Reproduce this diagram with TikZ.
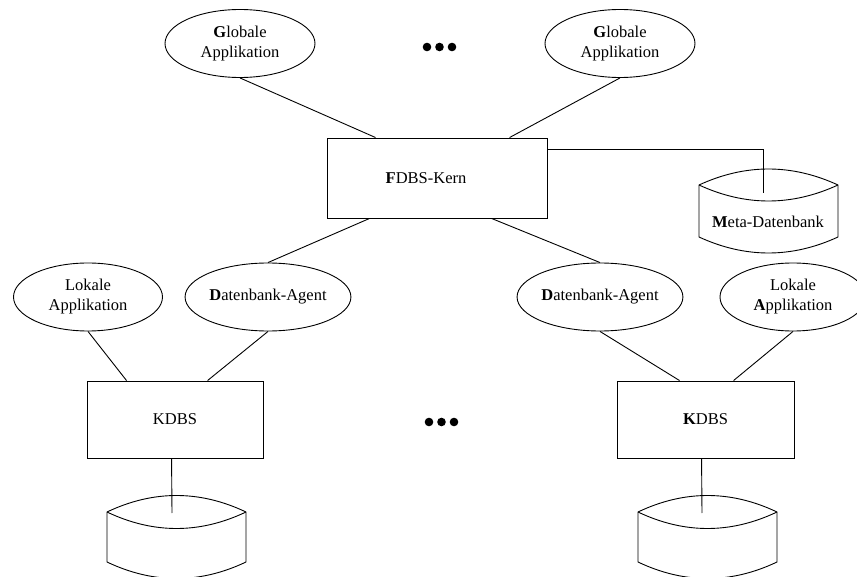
\documentclass[tikz,border=0pt]{standalone}
\usepackage{fontspec}
\setmainfont{Liberation Serif}
\usetikzlibrary{shapes.geometric,calc}
\newcommand{\dbcyl}[5]{% L R yc sag h
  \pgfmathsetmacro{\cw}{(#2-#1)/3}
  \draw (#1,#3) .. controls (#1+\cw,#3-4*#4/3) and (#2-\cw,#3-4*#4/3) .. (#2,#3)
        -- (#2,#3+#5) .. controls (#2-\cw,#3+#5+4*#4/3) and (#1+\cw,#3+#5+4*#4/3) .. (#1,#3+#5) -- cycle;
  \draw (#1,#3) .. controls (#1+\cw,#3+4*#4/3) and (#2-\cw,#3+4*#4/3) .. (#2,#3);
}
\begin{document}
\begin{tikzpicture}[x=1pt,y=-1pt,line width=0.9pt,
  txt/.style={font=\fontsize{16.5}{20}\selectfont},
  app/.style={txt,draw,ellipse,inner sep=0pt,minimum height=68pt,align=center},
  box/.style={txt,draw,rectangle,inner sep=0pt}]
\useasboundingbox (0,0) rectangle (857,577);

% nodes
\node[app,minimum width=150pt] (gl) at (240,43.5) {\textbf{G}lobale\\Applikation};
\node[app,minimum width=150pt] (gr) at (620,43.5) {\textbf{G}lobale\\Applikation};
\node[box,minimum width=220pt,minimum height=80pt] (fdbs) at (437,178) {\textbf{F}DBS-Kern\hspace*{22pt}};
\node[app,minimum width=149pt] (ll) at (88,297) {Lokale\\Applikation};
\node[app,minimum width=138pt] (al) at (268,297) {\textbf{D}atenbank-Agent};
\node[app,minimum width=149pt] (ar) at (600,297) {\textbf{D}atenbank-Agent};
\node[app,minimum width=146pt] (lr) at (793,297) {Lokale\\\textbf{A}pplikation};
\node[box,minimum width=176pt,minimum height=77pt] (kl) at (175,419.5) {KDBS};
\node[box,minimum width=177pt,minimum height=77pt] (kr) at (705.5,419.5) {\textbf{K}DBS};
\node[txt] (meta) at (768,222) {\textbf{M}eta-Datenbank};

% cylinders
\dbcyl{699}{838}{185}{16}{52}
\dbcyl{107}{246}{512}{16.5}{50}
\dbcyl{638}{777}{512}{16.5}{50}

\coordinate (metaend) at (763,193);
\coordinate (cylL) at (172,513);
\coordinate (cylR) at (702,513);

% connectors
\draw (gl.south) -- ($(fdbs.north west)+(49,0)$);
\draw (gr.south) -- ($(fdbs.north west)+(183,0)$);
\draw ($(fdbs.north east)+(0,12)$) -| (metaend);
\draw ($(fdbs.south west)+(43,0)$) -- (al.north);
\draw ($(fdbs.south west)+(165,0)$) -- (ar.north);
\draw (ll.south) -- ($(kl.north west)+(40,0)$);
\draw (al.south) -- ($(kl.north west)+(121,0)$);
\draw (ar.south) -- ($(kr.north west)+(63,0)$);
\draw (lr.south) -- ($(kr.north west)+(117,0)$);
\draw ($(kl.south west)+(85,0)$) -- (cylL);
\draw ($(kr.south west)+(85,0)$) -- (cylR);

% ellipsis dots
\foreach \dx in {427,439.5,452} \fill (\dx,47) circle (4.3pt);
\foreach \dx in {429,441.5,454} \fill (\dx,422) circle (4.3pt);
\end{tikzpicture}
\end{document}
